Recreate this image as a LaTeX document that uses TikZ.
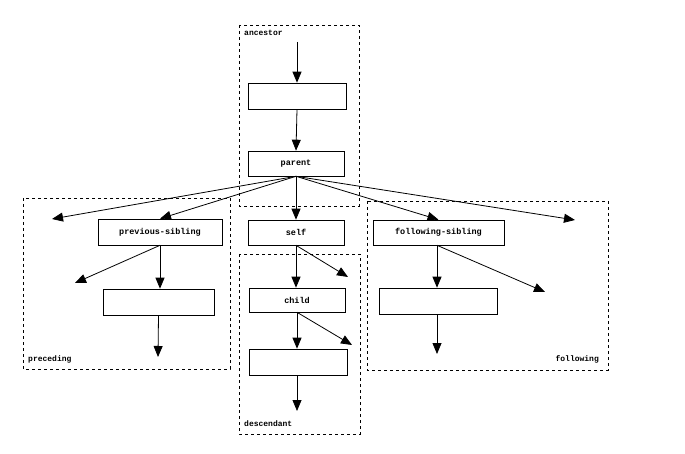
\documentclass[tikz,border=0pt]{standalone}
\usepackage{fontspec}
\setmonofont{Liberation Mono}
\usetikzlibrary{arrows.meta}
\begin{document}
\begin{tikzpicture}[x=1pt,y=-1pt,
  box/.style={draw,line width=0.6pt,font=\ttfamily\bfseries\fontsize{8.5}{10}\selectfont,inner sep=0pt},
  area/.style={draw,dashed,line width=0.6pt},
  lab/.style={font=\ttfamily\bfseries\fontsize{8}{10}\selectfont,inner sep=0pt},
  arr/.style={-{Triangle[length=11pt,width=9pt]},line width=0.8pt}]
\useasboundingbox (0,0) rectangle (685,454);
\draw[area] (239,25) rectangle (359,206);
\draw[area] (23,198) rectangle (230,369);
\draw[area] (367,201) rectangle (608,370);
\draw[area] (239,254) rectangle (360,434);
\node[lab,anchor=west] (la) at (244,33) {ancestor};
\node[lab,anchor=west] (lp) at (28,359) {preceding};
\node[lab,anchor=east] (lf) at (599,359) {following};
\node[lab,anchor=west] (ld) at (244,424) {descendant};
\node[box,minimum width=98pt,minimum height=26pt] (anc) at (297,96) {};
\node[box,minimum width=96pt,minimum height=25pt] (parent) at (296,163.5) {parent};
\node[box,minimum width=96pt,minimum height=25pt] (self) at (296,232.5) {self};
\node[box,minimum width=96pt,minimum height=24pt] (child) at (297,300) {child};
\node[box,minimum width=98pt,minimum height=26pt] (desc) at (298,362) {};
\node[box,minimum width=124pt,minimum height=26pt] (prev) at (160,232) {previous-sibling};
\node[box,minimum width=111pt,minimum height=26pt] (pe) at (158.5,302) {};
\node[box,minimum width=131pt,minimum height=25pt] (fol) at (438.5,232.5) {following-sibling};
\node[box,minimum width=118pt,minimum height=26pt] (fe) at (438,301) {};
\coordinate (top) at (297,42);
\coordinate (pl) at (52,219);
\coordinate (pr) at (575,220);
\coordinate (pv) at (75,283);
\coordinate (pd) at (158,357);
\coordinate (sr) at (348,277);
\coordinate (cr) at (352,345);
\coordinate (dd) at (297,411);
\coordinate (fr) at (545,292);
\coordinate (fd) at (437,354);
\draw[arr] (top) -- (anc.north);
\draw[arr] (anc.south) -- (parent.north);
\draw[arr] (parent.south) -- (pl);
\draw[arr] (parent.south) -- (prev.north);
\draw[arr] (parent.south) -- (self.north);
\draw[arr] (parent.south) -- (fol.north);
\draw[arr] (parent.south) -- (pr);
\draw[arr] (prev.south) -- (pv);
\draw[arr] (prev.south) -- (pe.north -| prev.south);
\draw[arr] (pe.south) -- (pd);
\draw[arr] (self.south) -- (child.north -| self.south);
\draw[arr] (self.south) -- (sr);
\draw[arr] (child.south) -- (desc.north -| child.south);
\draw[arr] (child.south) -- (cr);
\draw[arr] (desc.south -| child.south) -- (dd);
\draw[arr] (fol.south -| fd) -- (fe.north -| fd);
\draw[arr] (fol.south -| fd) -- (fr);
\draw[arr] (fe.south -| fd) -- (fd);
\end{tikzpicture}
\end{document}
